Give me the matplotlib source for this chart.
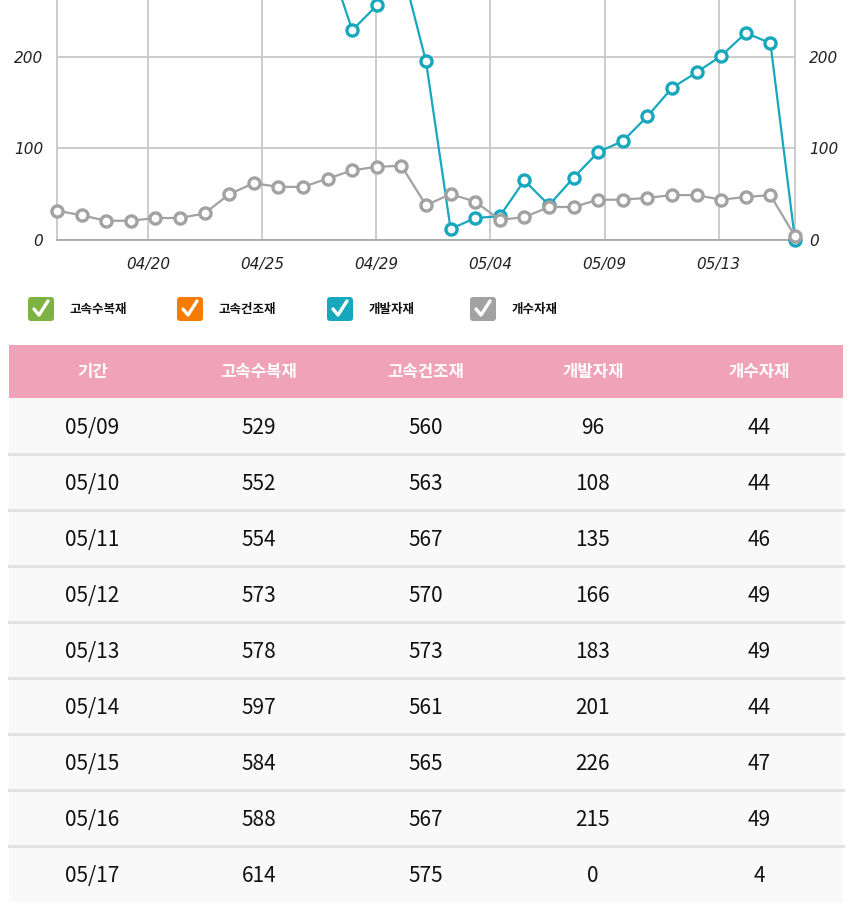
import numpy as np
import matplotlib
matplotlib.use('Agg')
import matplotlib.pyplot as plt
from matplotlib.patches import Rectangle, FancyBboxPatch

plt.rcParams['font.family'] = ['Noto Sans CJK KR', 'DejaVu Sans']

nan = np.nan

# daily points 04/17 .. 05/17
dates = ['04/17', '04/18', '04/19', '04/20', '04/21', '04/22', '04/23', '04/24',
         '04/25', '04/26', '04/27', '04/28', '04/29', '04/30', '05/01', '05/02',
         '05/03', '05/04', '05/05', '05/06', '05/07', '05/08', '05/09', '05/10',
         '05/11', '05/12', '05/13', '05/14', '05/15', '05/16', '05/17']

series_names = ['고속수복재', '고속건조재', '개발자재', '개수자재']
series_colors = ['#7cb342', '#f57c00', '#17a8bd', '#a2a2a2']

# only the last 9 days are known for the two 500+ series (off the visible range)
gosok_subok = [nan] * 22 + [529, 552, 554, 573, 578, 597, 584, 588, 614]
gosok_geonjo = [nan] * 22 + [560, 563, 567, 570, 573, 561, 565, 567, 575]
gaebal = [nan] * 11 + [310, 229, 256, 300, 195, 12, 24, 26, 65, 38, 68,
                       96, 108, 135, 166, 183, 201, 226, 215, 0]
gaesu = [32, 27, 21, 21, 24, 24, 29, 50, 62, 58, 58, 67, 76, 80, 81, 38,
         50, 42, 22, 25, 36, 36, 44, 44, 46, 49, 49, 44, 47, 49, 4]

xtick_labels = ['04/20', '04/25', '04/29', '05/04', '05/09', '05/13']
ytick_values = [0, 100, 200]

table_header = ['기간'] + series_names
table_rows = 9  # last 9 days

W, H = 850, 910
fig = plt.figure(figsize=(W / 100, H / 100), dpi=100)
fig.patch.set_facecolor('white')

# ---- chart ----
ax = fig.add_axes([57 / W, 1 - 240 / H, 738 / W, 240 / H])
x = np.arange(len(dates))
grid_c = '#c8c8c8'
for vals, col in zip([gosok_subok, gosok_geonjo, gaebal, gaesu], series_colors):
    ax.plot(x, vals, color=col, lw=1.6, marker='o', ms=8, mew=2.4,
            mfc='white', mec=col, clip_on=False, zorder=3)

ax.set_xlim(0, len(dates) - 1)
ax.set_ylim(0, 262)
ax.set_xticks(np.linspace(3.7, 26.9, len(xtick_labels)))
ax.set_xticklabels(xtick_labels)
ax.set_yticks(ytick_values)
ax.set_yticklabels([str(v) for v in ytick_values])
ax.tick_params(axis='both', length=0, labelsize=11, colors='#222222')
ax.tick_params(axis='x', pad=12)
ax.tick_params(axis='y', pad=10, labelright=True)
for lab in ax.get_xticklabels() + ax.get_yticklabels() + ax.yaxis.get_ticklabels(which='major'):
    lab.set_fontstyle('italic')
    lab.set_family('DejaVu Sans')
for t in ax.yaxis.get_major_ticks():
    t.label2.set_fontstyle('italic')
    t.label2.set_family('DejaVu Sans')
ax.grid(True, color=grid_c, lw=1.3)
ax.set_axisbelow(True)
ax.spines['top'].set_visible(False)
for s in ['left', 'right']:
    ax.spines[s].set_color(grid_c)
    ax.spines[s].set_linewidth(1.3)
ax.spines['bottom'].set_color('#a8a8a8')
ax.spines['bottom'].set_linewidth(1.3)

# ---- legend + table drawn in pixel space ----
ov = fig.add_axes([0, 0, 1, 1], zorder=-1)
ov.set_xlim(0, W)
ov.set_ylim(H, 0)
ov.axis('off')

legend_x = [28, 177, 327, 470]
for lx, name, col in zip(legend_x, series_names, series_colors):
    ov.add_patch(FancyBboxPatch((lx, 297), 26, 24, boxstyle='round,pad=0,rounding_size=3',
                                fc=col, ec='none'))
    ov.plot([lx + 6, lx + 11, lx + 20], [309, 315, 301], color='white', lw=2.4,
            solid_capstyle='round', solid_joinstyle='round')
    ov.text(lx + 42, 309, name, fontsize=9, fontweight='bold', va='center', ha='left',
            color='#111111')

tx0, tw = 9, 834
col_w = tw / len(table_header)
ov.add_patch(Rectangle((tx0, 345), tw, 53, fc='#efa2b8', ec='none'))
for j, h in enumerate(table_header):
    ov.text(tx0 + col_w * (j + 0.5), 372, h, color='white', fontsize=12,
            fontweight='bold', ha='center', va='center')

row_h = 56
for i in range(table_rows):
    k = len(dates) - table_rows + i
    top = 398 + i * row_h
    ov.add_patch(Rectangle((tx0, top), tw, row_h, fc='#f9f9f9', ec='none'))
    if i < table_rows - 1:
        ov.plot([tx0, tx0 + tw], [top + row_h, top + row_h], color='#e2e2e2', lw=2.2)
    cells = [dates[k], gosok_subok[k], gosok_geonjo[k], gaebal[k], gaesu[k]]
    for j, c in enumerate(cells):
        txt = c if isinstance(c, str) else str(int(c))
        ov.text(tx0 + col_w * (j + 0.5), top + row_h / 2 + 2, txt, color='#111111',
                fontsize=15, fontweight='medium', ha='center', va='center')

fig.savefig('out.png', dpi=100, facecolor='white')
